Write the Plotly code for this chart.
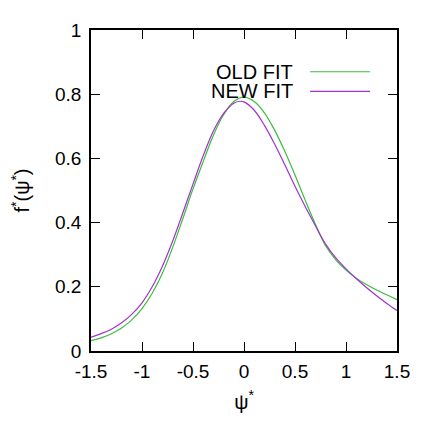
import plotly.graph_objects as go

# Data
x_old = [-1.5, -1.4, -1.3, -1.2, -1.1, -1.0, -0.9, -0.8, -0.7, -0.6, -0.5, -0.4, -0.3, -0.2, -0.1, 0.0,
         0.1, 0.2, 0.3, 0.4, 0.5, 0.6, 0.7, 0.8, 0.9, 1.0, 1.1, 1.2, 1.3, 1.4, 1.5]
y_old = [0.032, 0.041, 0.054, 0.072, 0.097, 0.132, 0.180, 0.242, 0.322, 0.412, 0.505, 0.590, 0.672, 0.736, 0.777, 0.791,
         0.777, 0.742, 0.688, 0.622, 0.548, 0.470, 0.395, 0.328, 0.284, 0.252, 0.227, 0.207, 0.190, 0.175, 0.160]

x_new = [-1.5, -1.4, -1.3, -1.2, -1.1, -1.0, -0.9, -0.8, -0.7, -0.6, -0.5, -0.4, -0.3, -0.2, -0.1, -0.04, 0.0,
         0.1, 0.2, 0.3, 0.4, 0.5, 0.6, 0.7, 0.8, 0.9, 1.0, 1.1, 1.2, 1.3, 1.4, 1.5]
y_new = [0.043, 0.054, 0.068, 0.088, 0.114, 0.150, 0.200, 0.264, 0.342, 0.430, 0.520, 0.608, 0.685, 0.740, 0.772, 0.778, 0.776,
         0.750, 0.703, 0.645, 0.580, 0.513, 0.450, 0.390, 0.333, 0.290, 0.256, 0.226, 0.198, 0.172, 0.148, 0.126]

x_ticks = [-1.5, -1, -0.5, 0, 0.5, 1, 1.5]
x_tick_text = ["-1.5", "-1", "-0.5", "0", "0.5", "1", "1.5"]
y_ticks = [0, 0.2, 0.4, 0.6, 0.8, 1]
y_tick_text = ["0", "0.2", "0.4", "0.6", "0.8", "1"]

names = ["OLD FIT", "NEW FIT"]
colors = ["#3cbd3c", "#a033cc"]

FONT = "Liberation Sans, Arial, sans-serif"

fig = go.Figure()
fig.add_trace(go.Scatter(x=x_old, y=y_old, mode="lines", name=names[0],
                         line=dict(color=colors[0], width=1.2, shape="spline", smoothing=1.0),
                         showlegend=False))
fig.add_trace(go.Scatter(x=x_new, y=y_new, mode="lines", name=names[1],
                         line=dict(color=colors[1], width=1.2, shape="spline", smoothing=1.0),
                         showlegend=False))

axis_common = dict(
    showgrid=False, zeroline=False, showline=True, linecolor="black", linewidth=1.5,
    mirror="ticks", ticks="inside", ticklen=9, tickwidth=1, tickcolor="black",
    tickfont=dict(family=FONT, size=19, color="black"),
)

fig.update_xaxes(range=[-1.5, 1.5], tickvals=x_ticks, ticktext=x_tick_text, **axis_common,
                 ticklabelstandoff=2,
                 title=dict(text="ψ<sup>*</sup>", font=dict(family=FONT, size=20, color="black"), standoff=14))
fig.update_yaxes(range=[0, 1], tickvals=y_ticks, ticktext=y_tick_text, **axis_common,
                 ticklabelstandoff=4,
                 title=dict(text="f<sup>*</sup>(ψ<sup>*</sup>)", font=dict(family=FONT, size=20, color="black"), standoff=20))

# Custom gnuplot-style legend (text then line sample)
legend_y = [0.870, 0.809]
for i in range(2):
    fig.add_annotation(xref="paper", yref="paper", x=0.667, y=legend_y[i], text=names[i],
                       showarrow=False, xanchor="right", yanchor="middle",
                       font=dict(family=FONT, size=20, color="black"))
    fig.add_shape(type="line", xref="paper", yref="paper", x0=0.716, x1=0.912,
                  y0=legend_y[i], y1=legend_y[i], line=dict(color=colors[i], width=1.2))

# page body has an 8px margin: size the figure so it fits the 436px window
fig.update_layout(
    width=428, height=428,
    margin=dict(l=83, r=39, t=13, b=85),
    paper_bgcolor="white", plot_bgcolor="white",
    font=dict(family=FONT, color="black"),
)

fig.write_html("out.html")
